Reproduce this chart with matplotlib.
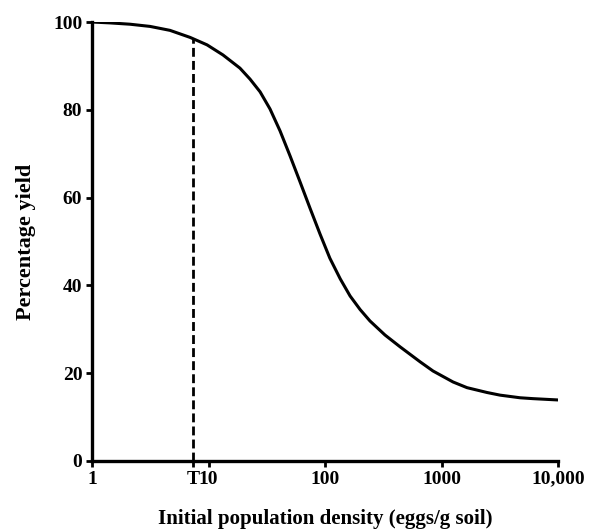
import matplotlib.pyplot as plt

density = [1, 1.43, 2.12, 3.15, 4.67, 6.94, 9.71, 13.3, 18.6, 22.7, 27.7,
           33.7, 41.1, 50.1, 61.0, 74.3, 90.6, 110, 135, 164, 200, 243,
           327, 441, 654, 845, 1255, 1656, 2458, 3178, 4719, 6100, 10000]
pct_yield = [100, 99.8, 99.5, 99.0, 98.1, 96.5, 94.8, 92.5, 89.5, 87.0, 84.1,
             80.2, 75.2, 69.5, 63.6, 57.6, 51.7, 46.2, 41.5, 37.6, 34.5, 31.9,
             28.7, 26.0, 22.6, 20.5, 18.0, 16.7, 15.6, 15.0, 14.4, 14.2, 13.9]

# tolerance limit T
t_density = 7.36
t_yield = 96.2

x_ticks = [1, t_density, 10, 100, 1000, 10000]
x_ticklabels = ["1", "T", "10", "100", "1000", "10,000"]
y_ticks = [0, 20, 40, 60, 80, 100]

plt.rcParams["font.family"] = ["Liberation Serif", "DejaVu Serif"]
plt.rcParams["font.weight"] = "bold"

fig = plt.figure(figsize=(5.96, 5.32), dpi=100)
ax = fig.add_axes([0.1544, 0.1335, 0.7819, 0.8251])

ax.plot(density, pct_yield, color="black", lw=2.2,
        solid_joinstyle="round", solid_capstyle="butt")
ax.plot([t_density, t_density], [0, t_yield], color="black", lw=2.0,
        dashes=(3.2, 1.5))

ax.set_xscale("log")
ax.set_xlim(1, 10000)
ax.set_ylim(0, 100)
ax.set_xticks(x_ticks)
ax.set_xticklabels(x_ticklabels)
ax.minorticks_off()
ax.set_yticks(y_ticks)

for side in ("top", "right"):
    ax.spines[side].set_visible(False)
for side in ("left", "bottom"):
    ax.spines[side].set_linewidth(2.4)

ax.tick_params(axis="both", direction="out", length=4, width=2,
               labelsize=14, pad=3)
for lab in ax.get_xticklabels() + ax.get_yticklabels():
    lab.set_fontweight("bold")

ax.set_xlabel("Initial population density (eggs/g soil)", fontsize=15,
              fontweight="bold", labelpad=15)
ax.set_ylabel("Percentage yield", fontsize=16, fontweight="bold",
              labelpad=12)

fig.savefig("out.png", dpi=100)
